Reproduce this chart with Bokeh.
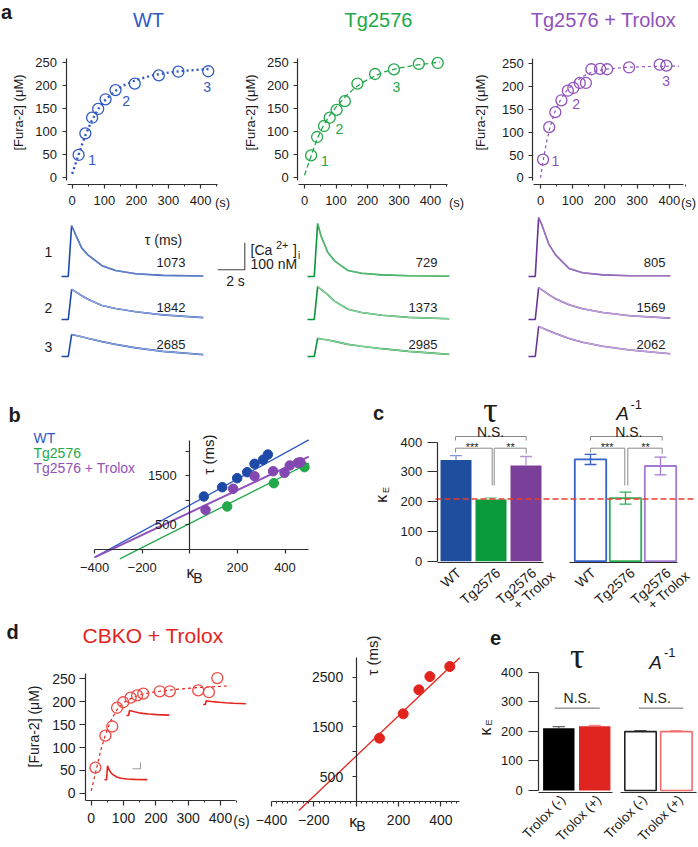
import math
from bokeh.plotting import figure
from bokeh.layouts import column, row
from bokeh.models import Range1d, LinearAxis, FixedTicker, Label
from bokeh.embed import file_html
from bokeh.resources import INLINE

FONT = "Liberation Sans"
SERIF = "Liberation Serif"
S = 1.0
INK = "#1c1c1c"
AXC = "#2e2e2e"
GRAY = "#8a8a8a"

WT_C, TG_C, TX_C = "#3159c4", "#22a84a", "#9052bb"
WT_D, TG_D, TX_D = "#1d4aa8", "#0c9438", "#6a3398"
WT_L, TG_L, TX_L = "#93a9e3", "#8fd39f", "#c3a5dd"
WT_BAR, TG_BAR, TX_BAR = "#1f4e9f", "#0a9a3c", "#7a3f98"
RED = "#e3241e"

# ======================= DATA =======================
# (a) [Fura-2] loading: time (s) vs [Fura-2] (uM)
a_wt_t = [20, 41, 62, 81, 104, 135, 195, 270, 331, 424]
a_wt_c = [49, 96, 130, 149, 170, 190, 204, 222, 230, 231]
a_wt_fit_t = [0, 20, 40, 60, 80, 100, 130, 160, 200, 250, 300, 350, 430]
a_wt_fit_c = [8, 50, 90, 122, 148, 166, 186, 200, 212, 222, 228, 232, 236]
a_tg_t = [21, 40, 62, 80, 102, 128, 168, 224, 284, 363, 423]
a_tg_c = [48, 88, 112, 130, 147, 166, 204, 225, 235, 247, 249]
a_tg_fit_t = [0, 20, 40, 60, 80, 100, 130, 160, 200, 250, 300, 350, 430]
a_tg_fit_c = [5, 45, 84, 113, 135, 153, 176, 195, 213, 229, 238, 244, 251]
a_tx_t = [8, 27, 46, 65, 85, 102, 122, 141, 158, 185, 207, 275, 370, 391]
a_tx_c = [40, 111, 144, 170, 191, 197, 208, 208, 238, 239, 238, 242, 248, 246]
a_tx_fit_t = [0, 10, 20, 30, 45, 60, 80, 100, 130, 160, 200, 260, 330, 430]
a_tx_fit_c = [0, 45, 82, 112, 145, 168, 190, 205, 222, 232, 238, 242, 244, 245]
a_ticks_t = [0, 100, 200, 300, 400]
a_minor_t = [50, 150, 250, 350, 450]
a_ticks_c = [0, 50, 100, 150, 200, 250]

# (a) Ca2+ transients: time (s) vs d[Ca2+]i (nM), rows 1-3
tr_t = [0, 0.5, 0.75, 1.0, 1.5, 2.0, 3.0, 4.0, 5.5, 7.5, 10.5]
wt_tr = [[0, 0, 189, 160, 105, 78, 40, 22, 10, 4, 2],
         [0, 0, 111, 104, 88, 74, 52, 41, 29, 17, 7],
         [0, 0, 81, 79, 73, 67, 55, 45, 32, 19, 7]]
tg_tr = [[0, 0, 196, 150, 90, 58, 22, 12, 6, 3, 1],
         [0, 0, 122, 112, 92, 68, 38, 26, 16, 8, 3],
         [0, 0, 67, 65, 61, 56, 45, 38, 29, 19, 8]]
tx_tr = [[0, 0, 218, 190, 120, 80, 30, 14, 6, 3, 3],
         [0, 0, 118, 110, 92, 77, 55, 40, 26, 14, 5],
         [0, 0, 111, 106, 95, 85, 67, 53, 38, 24, 10]]
wt_tau = ["1073", "1842", "2685"]
tg_tau = ["729", "1373", "2985"]
tx_tau = ["805", "1569", "2062"]
sb_t, sb_c = 2, 100          # scale bar: 2 s, 100 nM

# (b) tau (ms) vs kappa_B
b_wt_kb = [59, 136, 199, 241, 272, 308, 328]
b_wt_tau = [1078, 1268, 1452, 1575, 1746, 1828, 1936]
b_tg_kb = [157, 353, 482]
b_tg_tau = [873, 1350, 1677]
b_tx_kb = [66, 182, 272, 350, 398, 420, 454, 465]
b_tx_tau = [805, 1235, 1493, 1595, 1562, 1712, 1767, 1779]
b_fit_int = [901, 527, 750]
b_fit_slope = [2.67, 2.46, 2.29]
b_fit_from = [-400, -294, -400]
b_fit_to = [500, 500, 500]

# (c) kappa_E
c_groups = ["WT", "Tg2576", "Tg2576", "+ Trolox"]
c_tau_ke = [340, 207, 322]
c_tau_sem = [15, 6, 30]
c_A_ke = [342, 212, 320]
c_A_sem = [17, 20, 30]
c_ref_ke = 209
ke_ticks = [0, 100, 200, 300, 400]

# (d) CBKO + Trolox
d_t = [13, 44, 65, 80, 99, 122, 142, 161, 212, 243, 331, 364, 390]
d_c = [56, 126, 146, 187, 199, 209, 214, 218, 223, 223, 225, 221, 252]
d_fit_t = [0, 15, 30, 45, 60, 80, 100, 130, 160, 200, 260, 330, 430]
d_fit_c = [5, 50, 95, 130, 158, 183, 198, 210, 217, 222, 227, 231, 235]
d_tr = [[0, 0, 221, 175, 120, 85, 45, 25, 12, 6, 3],
        [0, 0, 80, 75, 66, 58, 44, 34, 24, 14, 6],
        [0, 0, 58, 56, 52, 48, 41, 35, 28, 20, 12]]
d_kb = [110, 222, 296, 348, 442]
d_tau = [1271, 1761, 2244, 2511, 2712]
d_fit_int, d_fit_slope = 912, 4.04
d_fit_from, d_fit_to = -271, 489

# (e) kappa_E, Trolox (-)/(+)
e_groups = ["Trolox (-)", "Trolox (+)"]
e_tau_ke = [210, 217]
e_tau_sem = [6, 3]
e_A_ke = [199, 199]
e_A_sem = [2, 2]


# ======================= HELPERS =======================
class Pan:
    def __init__(self, fx0, fx1, fy0, fy1, xcal, ycal):
        self.xc, self.yc = xcal, ycal
        w = int(round(fx1 * S) - round(fx0 * S))
        h = int(fy1 - fy0)
        p = figure(width=w, height=h,
                   x_range=Range1d(self.X(fx0), self.X(fx1)),
                   y_range=Range1d(self.Y(fy1), self.Y(fy0)),
                   x_axis_location=None, y_axis_location=None,
                   output_backend="svg", toolbar_location=None)
        p.min_border_left = 0
        p.min_border_right = 0
        p.min_border_top = 0
        p.min_border_bottom = 0
        p.outline_line_color = None
        p.grid.visible = False
        p.background_fill_color = "white"
        p.border_fill_color = "white"
        self.p = p

    def X(self, px):
        return self.xc[1] + (px - self.xc[0]) / self.xc[2]

    def Y(self, py):
        return self.yc[1] + (self.yc[0] - py) / self.yc[2]

    def text(self, px, py, s, size=13, color=INK, align="center", baseline="middle",
             angle=0.0, font=FONT, style="normal"):
        self.p.add_layout(Label(x=self.X(px), y=self.Y(py), text=s, text_font=font,
                                text_font_size=f"{size}px", text_color=color,
                                text_align=align, text_baseline=baseline,
                                angle=angle, text_font_style=style))

    def _axis(self, at, bounds, ticks, minor, overrides, size, tick_out, standoff):
        ax = LinearAxis(fixed_location=at, bounds=bounds,
                        ticker=FixedTicker(ticks=list(ticks), minor_ticks=list(minor)))
        ax.axis_line_color = AXC
        ax.axis_line_width = 1.2
        ax.major_tick_line_color = AXC
        ax.major_tick_line_width = 1.2
        ax.major_tick_out = tick_out
        ax.major_tick_in = 0
        ax.minor_tick_line_color = AXC
        ax.minor_tick_out = 2
        ax.minor_tick_in = 0
        ax.major_label_text_font = FONT
        ax.major_label_text_font_size = f"{size}px"
        ax.major_label_text_color = INK
        ax.major_label_standoff = standoff
        if overrides is not None:
            ax.major_label_overrides = overrides
        return ax

    def xaxis(self, at, bounds, ticks, minor=(), overrides=None, size=13, tick_out=4, standoff=4):
        self.p.add_layout(self._axis(at, bounds, ticks, minor, overrides, size, tick_out, standoff), "below")

    def yaxis(self, at, bounds, ticks, minor=(), overrides=None, size=13, tick_out=4, standoff=4):
        self.p.add_layout(self._axis(at, bounds, ticks, minor, overrides, size, tick_out, standoff), "left")

    def poly(self, pts, color=GRAY, width=1.0, dash="solid"):
        self.p.line([self.X(a) for a, b in pts], [self.Y(b) for a, b in pts],
                    line_color=color, line_width=width, line_dash=dash)


# ======================= (a) loading curves =======================
A1 = Pan(0, 236, 0, 212, (71.7, 0, 0.3208), (177.0, 0, 0.46))
A2 = Pan(236, 468, 0, 212, (304.0, 0, 0.315), (177.0, 0, 0.46))
A3 = Pan(468, 698, 0, 212, (540.0, 0, 0.322), (177.3, 0, 0.456))

a_specs = [
    (A1, a_wt_t, a_wt_c, a_wt_fit_t, a_wt_fit_c, WT_C, "2 3", 2.4, "WT", 148, 18, 65.5, 67, 217, 222,
     [(91.7, 159.3), (125.7, 100), (206.7, 86)]),
    (A2, a_tg_t, a_tg_c, a_tg_fit_t, a_tg_fit_c, TG_C, "5 3", 1.3, "Tg2576", 378, 250, 297.3, 298, 447, 456,
     [(324.3, 160), (339, 128.3), (396, 86)]),
    (A3, a_tx_t, a_tx_c, a_tx_fit_t, a_tx_fit_c, TX_C, "3 3", 1.2, "Tg2576 + Trolox", 603, 480, 532.3, 533, 683, 688,
     [(555, 160.7), (575.7, 103.3), (665.7, 80)]),
]
for (pn, t, c, ft, fc, col, dash, lw, title, tx, ylx, yax, xb0, xb1, sx, nums) in a_specs:
    pn.yaxis(at=pn.X(yax), bounds=(pn.Y(180), pn.Y(58)), ticks=a_ticks_c, size=13,
             tick_out=4, standoff=5)
    pn.xaxis(at=pn.Y(183.5), bounds=(pn.X(xb0), pn.X(xb1)), ticks=a_ticks_t, minor=a_minor_t,
             size=13, tick_out=4, standoff=8)
    pn.p.line(ft, fc, line_color=col, line_dash=dash, line_width=lw)
    pn.p.scatter(t, c, marker="circle", size=11, fill_color=None, line_color=col, line_width=1.3)
    pn.text(tx, 19, title, size=20, color=col)
    pn.text(ylx, 112, "[Fura-2] (μM)", size=13, angle=math.pi / 2)
    pn.text(sx, 202, "(s)", size=13)
    for k, (nx, ny) in enumerate(nums):
        pn.text(nx, ny, str(k + 1), size=14, color=col)
A1.text(6, 11, "a", size=20, style="bold")

# ======================= (a) Ca transients =======================
T = Pan(0, 698, 212, 364, (0.0, 0, 13.5), (364.0, 0, 0.27))
tr_groups = [(wt_tr, wt_tau, WT_D, WT_L, 61, 185),
             (tg_tr, tg_tau, TG_D, TG_L, 307, 437),
             (tx_tr, tx_tau, TX_D, TX_L, 528, 665)]
tr_base = [276, 319, 356]
tr_num_y = [261.7, 306.7, 344.0]
tr_lab_y = [251.7, 307.3, 346.7]
for traces, taus, dark, light, x0px, numx in tr_groups:
    for r in range(3):
        xs = [T.X(x0px) + t for t in tr_t]
        ys = [T.Y(tr_base[r]) + v for v in traces[r]]
        T.p.line(xs, ys, line_color=dark, line_width=1.6)
        T.p.line(xs[2:], ys[2:], line_color=light, line_width=1.4, line_alpha=0.55 if r == 0 else 0.95)
        T.text(numx, tr_num_y[r], taus[r], size=13, align="right")
for r in range(3):
    T.text(48, tr_lab_y[r], str(r + 1), size=14)
T.text(163, 239, "τ (ms)", size=14)
cx, cy = T.X(244.3), T.Y(269.3)
T.p.line([cx - sb_t, cx, cx], [cy, cy, cy + sb_c], line_color="#444444", line_width=1.1)
T.text(250, 249.3, "[Ca", size=14, align="left")
T.text(275.5, 244.5, "2+", size=11, align="left")
T.text(292.5, 249.3, "]", size=14, align="left")
T.text(297.5, 255, "i", size=10, align="left")
T.text(250, 263.3, "100 nM", size=14, align="left")
T.text(235, 280, "2 s", size=14)

# ======================= (b) =======================
B = Pan(0, 345, 364, 620, (189.3, 0, 0.238), (548.7, 0, 0.0489))
B.xaxis(at=0, bounds=(-400, 500), ticks=[-400, -200, 0, 200, 400], overrides={0: ""},
        size=13, tick_out=4, standoff=10)
B.yaxis(at=0, bounds=(0, 2230), ticks=[500, 1000, 1500, 2000], overrides={1000: "", 2000: ""},
        size=13, tick_out=4, standoff=9)
b_cols = [WT_C, TG_C, TX_C]
b_lw = [1.3, 1.3, 2.0]
for i in range(3):
    x0, x1 = b_fit_from[i], b_fit_to[i]
    B.p.line([x0, x1], [b_fit_int[i] + b_fit_slope[i] * x0, b_fit_int[i] + b_fit_slope[i] * x1],
             line_color=b_cols[i], line_width=b_lw[i])
B.p.scatter(b_wt_kb, b_wt_tau, size=9.5, fill_color=WT_D, line_color=WT_D)
B.p.scatter(b_tg_kb, b_tg_tau, size=9.5, fill_color=TG_C, line_color=TG_C)
B.p.scatter(b_tx_kb, b_tx_tau, size=9.5, fill_color="#8446b0", line_color="#8446b0")
B.text(14, 414, "b", size=20, style="bold")
B.text(33, 437.3, "WT", size=14, color=WT_C, align="left")
B.text(33, 452.3, "Tg2576", size=14, color=TG_C, align="left")
B.text(33, 467.7, "Tg2576 + Trolox", size=14, color=TX_C, align="left")
B.text(208, 454, "τ (ms)", size=15, angle=math.pi / 2)
B.text(190, 571.5, "κ", size=16)
B.text(197.5, 577, "B", size=14)

# ======================= (c) one canvas, two bar groups =======================
C = Pan(345, 698, 364, 620, (455.5, 1, 35.0), (560.7, 0, 0.2975))
cL = [455.5, 490.5, 525.5]           # left group centres (ref px)
cR = [590.0, 625.0, 660.0]           # right group centres (ref px)
xL = [C.X(v) for v in cL]
xR = [C.X(v) for v in cR]
C.yaxis(at=C.X(436.7), bounds=(0, 400), ticks=ke_ticks, size=13, tick_out=10, standoff=5)
C.xaxis(at=C.Y(562.3), bounds=(C.X(436.7), C.X(543.3)), ticks=xL, overrides={}, size=1, tick_out=0)
C.xaxis(at=C.Y(562.3), bounds=(C.X(569.3), C.X(676.7)), ticks=xR, overrides={}, size=1, tick_out=0)
for ax in C.p.below:
    ax.major_label_text_alpha = 0
ROT_C = 0.72
for centers in (cL, cR):
    C.text(centers[0] + 3, 570, c_groups[0], size=14, align="right", angle=ROT_C)
    C.text(centers[1] + 7, 570, c_groups[1], size=14, align="right", angle=ROT_C)
    C.text(centers[2] + 8, 570, c_groups[2], size=14, align="right", angle=ROT_C)
    C.text(centers[2] + 27, 573, c_groups[3], size=14, align="right", angle=ROT_C)
# tau bars (filled)
C.p.vbar(x=xL, top=c_tau_ke, bottom=0, width=31 / 35, fill_color=[WT_BAR, TG_BAR, TX_BAR], line_color=None)
c_err1 = ["#7f98d8", "#7fcf95", "#b893d3"]
c_hi1 = [m + s for m, s in zip(c_tau_ke, c_tau_sem)]
C.p.segment(x0=xL, y0=c_tau_ke, x1=xL, y1=c_hi1, line_color=c_err1, line_width=1.3)
C.p.segment(x0=[x - 0.17 for x in xL], y0=c_hi1, x1=[x + 0.17 for x in xL], y1=c_hi1,
            line_color=c_err1, line_width=1.3)
# A^-1 bars (open)
c_out = ["#3560c8", "#2fae55", "#a27ad0"]
C.p.vbar(x=xR, top=c_A_ke, bottom=0, width=31.4 / 35, fill_color="white", line_color=c_out, line_width=1.8)
lo = [m - s for m, s in zip(c_A_ke, c_A_sem)]
hi = [m + s for m, s in zip(c_A_ke, c_A_sem)]
C.p.segment(x0=xR, y0=lo, x1=xR, y1=hi, line_color=c_out, line_width=1.3)
C.p.segment(x0=[x - 0.17 for x in xR], y0=hi, x1=[x + 0.17 for x in xR], y1=hi, line_color=c_out, line_width=1.3)
C.p.segment(x0=[x - 0.17 for x in xR], y0=lo, x1=[x + 0.17 for x in xR], y1=lo, line_color=c_out, line_width=1.3)
# reference dashed line
C.p.line([C.X(435), C.X(693)], [c_ref_ke, c_ref_ke], line_color="#ee3b2b", line_width=1.5, line_dash="6 3")
# brackets
C.poly([(455, 440), (455, 436), (525.7, 436), (525.7, 440)])
C.poly([(455, 452), (455, 447.7), (491.7, 447.7), (491.7, 485)])
C.poly([(493.7, 485), (493.7, 447.7), (525.7, 447.7), (525.7, 453.3)])
C.poly([(590, 440), (590, 436), (661.7, 436), (661.7, 440)])
C.poly([(590, 452), (590, 447.7), (624.3, 447.7), (624.3, 485)])
C.poly([(627.3, 485), (627.3, 447.7), (661.7, 447.7), (661.7, 453.3)])
for xs in ((490, 471.7, 510), (628.3, 606.7, 645)):
    C.text(xs[0], 431, "N.S.", size=14)
    C.text(xs[1], 446, "***", size=11)
    C.text(xs[2], 446, "**", size=11)
C.text(378, 412.5, "c", size=20, style="bold")
C.text(490, 409, "τ", size=36, font=SERIF)
C.text(622, 413, "A", size=19, style="italic")
C.text(630, 404, "-1", size=13, align="left")
C.text(381.3, 498.3, "κ", size=16, angle=math.pi / 2)
C.text(385.5, 489.5, "E", size=9, angle=math.pi / 2)

# ======================= (d) =======================
D1 = Pan(0, 252, 620, 847, (90.7, 0, 0.3233), (792.7, 0, 0.457))
D1.yaxis(at=D1.X(85), bounds=(D1.Y(800), D1.Y(673.3)), ticks=a_ticks_c, size=14, tick_out=6, standoff=4)
D1.xaxis(at=D1.Y(800), bounds=(D1.X(85), D1.X(235)), ticks=a_ticks_t, minor=a_minor_t, size=14,
         tick_out=5, standoff=7)
D1.p.line(d_fit_t, d_fit_c, line_color=RED, line_dash="3 3", line_width=1.2)
D1.p.scatter(d_t, d_c, marker="circle", size=11, fill_color=None, line_color="#ee4a44", line_width=1.3)
d_in_start = [(104, 779.3), (126, 715), (202.7, 704)]   # inset positions (ref px)
d_in_px_s, d_in_px_nm = 4.07, 0.0633                   # inset scale
for (sx0, sy0), tr in zip(d_in_start, d_tr):
    D1.p.line([D1.X(sx0 + t * d_in_px_s) for t in tr_t], [D1.Y(sy0 - v * d_in_px_nm) for v in tr],
              line_color=RED, line_width=1.6)
D1.poly([(140 - sb_t * d_in_px_s, 768.3), (140, 768.3), (140, 768.3 - sb_c * d_in_px_nm)],
        color="#999999", width=1.0)
D1.text(12, 631, "d", size=20, style="bold")
D1.text(152.5, 635, "CBKO + Trolox", size=21, color=RED)
D1.text(33, 726, "[Fura-2] (μM)", size=14, angle=math.pi / 2)
D1.text(241, 820, "(s)", size=14)

D2 = Pan(252, 470, 620, 847, (355.7, 0, 0.2117), (800.85, 0, 0.0497))
D2.xaxis(at=0, bounds=(-400, 490), ticks=[-400, -200, 0, 200, 400],
         minor=[v for v in range(-375, 490, 25) if v % 200 != 0], overrides={0: ""},
         size=14, tick_out=5, standoff=9)
D2.yaxis(at=0, bounds=(0, 2900), ticks=[500, 1000, 1500, 2000, 2500], overrides={1000: "", 2000: ""},
         size=14, tick_out=4, standoff=9)
D2.p.line([d_fit_from, d_fit_to], [d_fit_int + d_fit_slope * d_fit_from, d_fit_int + d_fit_slope * d_fit_to],
          line_color=RED, line_width=1.3)
D2.p.scatter(d_kb, d_tau, size=10, fill_color=RED, line_color=RED)
D2.text(371.7, 655, "τ (ms)", size=15, angle=math.pi / 2)
D2.text(352.7, 820.8, "κ", size=16)
D2.text(360.5, 825, "B", size=14)

# ======================= (e) one canvas, two bar groups =======================
E = Pan(470, 698, 620, 847, (558.3, 1, 35.9), (790.0, 0, 0.296))
eL = [558.3, 594.2]
eR = [640.0, 675.9]
exL = [E.X(v) for v in eL]
exR = [E.X(v) for v in eR]
E.yaxis(at=E.X(538.3), bounds=(0, 400), ticks=ke_ticks, size=13, tick_out=10, standoff=6)
E.xaxis(at=E.Y(791.7), bounds=(E.X(538.3), E.X(612.3)), ticks=exL, overrides={}, size=1, tick_out=0)
E.xaxis(at=E.Y(791.7), bounds=(E.X(620), E.X(696)), ticks=exR, overrides={}, size=1, tick_out=0)
for ax in E.p.below:
    ax.major_label_text_alpha = 0
ROT_E = 0.8
for centers in (eL, eR):
    for k in range(2):
        E.text(centers[k] + 4, 797, e_groups[k], size=13.5, align="right", angle=ROT_E)
E.p.vbar(x=exL, top=e_tau_ke, bottom=0, width=0.875, fill_color=["#000000", "#e02420"], line_color=None)
e_err = ["#666666", "#f08c8c"]
e_hi = [m + s for m, s in zip(e_tau_ke, e_tau_sem)]
E.p.segment(x0=exL, y0=e_tau_ke, x1=exL, y1=e_hi, line_color=e_err, line_width=1.3)
E.p.segment(x0=[x - 0.17 for x in exL], y0=e_hi, x1=[x + 0.17 for x in exL], y1=e_hi, line_color=e_err, line_width=1.3)
e_out = ["#222222", "#f26c6c"]
E.p.vbar(x=exR, top=e_A_ke, bottom=0, width=0.875, fill_color="white", line_color=e_out, line_width=1.6)
e_hiA = [m + s for m, s in zip(e_A_ke, e_A_sem)]
E.p.segment(x0=[x - 0.17 for x in exR], y0=e_hiA, x1=[x + 0.17 for x in exR], y1=e_hiA,
            line_color=e_out, line_width=1.3)
E.poly([(554.3, 707.7), (599.3, 707.7)], color="#9a9a9a", width=1.5)
E.poly([(638.3, 707.7), (682.7, 707.7)], color="#9a9a9a", width=1.5)
E.text(576.7, 697.3, "N.S.", size=14)
E.text(656.7, 697.3, "N.S.", size=14)
E.text(495, 637, "e", size=20, style="bold")
E.text(576.7, 655, "τ", size=36, font=SERIF)
E.text(655, 661.7, "A", size=19, style="italic")
E.text(663.5, 652, "-1", size=13, align="left")
E.text(485, 731, "κ", size=16, angle=math.pi / 2)
E.text(488.5, 722, "E", size=9, angle=math.pi / 2)

# ======================= LAYOUT =======================
lay = column(row(A1.p, A2.p, A3.p), T.p, row(B.p, C.p), row(D1.p, D2.p, E.p))
open("out.html", "w").write(file_html(lay, INLINE))
